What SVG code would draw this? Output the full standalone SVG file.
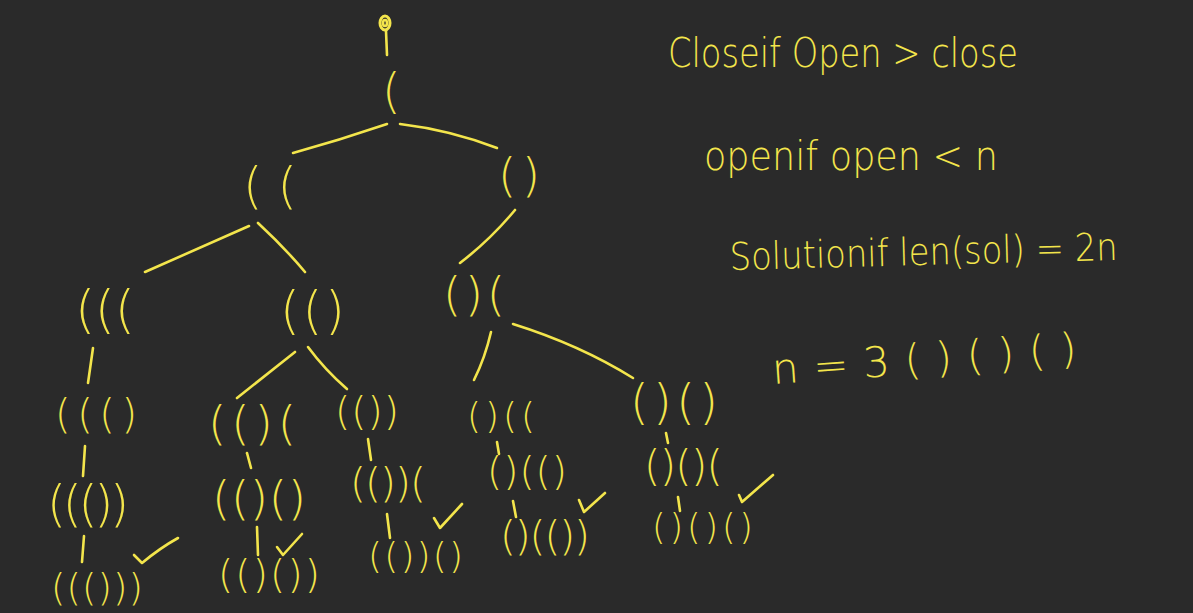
<svg xmlns="http://www.w3.org/2000/svg" width="1193" height="613" viewBox="0 0 1193 613">
<style>
.bg{fill:#2a2a2a}
.t{font-family:"DejaVu Sans ExtraLight","DejaVu Sans","Liberation Sans",sans-serif;font-weight:200;fill:#f3e54c}
.n{font-family:"DejaVu Sans ExtraLight","DejaVu Sans","Liberation Sans",sans-serif;font-weight:200;fill:#f3e54c}
.c{stroke:#f3e54c;stroke-width:2.6;fill:none;stroke-linecap:round;stroke-linejoin:round}
</style>
<rect class="bg" x="0" y="0" width="1193" height="613"/>
<g id="connectors" class="c">
<path d="M386,31 L387,55"/>
<path d="M387,124 Q340,140 293,153"/>
<path d="M400,124 Q450,130 497,148"/>
<path d="M249,226 Q190,252 145,272"/>
<path d="M258,223 Q285,248 305,272"/>
<path d="M515,210 Q490,240 460,263"/>
<path d="M93,348 L88,383"/>
<path d="M295,352 L237,398"/>
<path d="M308,347 Q325,370 347,389"/>
<path d="M491,332 Q485,358 474,380"/>
<path d="M513,324 Q580,345 633,378"/>
<path d="M85,446 L83,476"/>
<path d="M84,536 L82,562"/>
<path d="M247,453 L251,468"/>
<path d="M257,527 L258,555"/>
<path d="M368,439 L371,460"/>
<path d="M387,514 L390,538"/>
<path d="M497,442 L499,454"/>
<path d="M513,501 L516,517"/>
<path d="M666,433 L668,443"/>
<path d="M678,497 L680,511"/>
</g>
<g id="checks" class="c">
<path d="M134,555 L142,563 Q160,548 178,538"/>
<path d="M277,547 L283,555 L302,534"/>
<path d="M434,518 L440,528 L462,504"/>
<path d="M579,500 L584,512 L605,493"/>
<path d="M739,495 L742,502 Q758,488 773,475"/>
</g>
<g id="root" class="c"><ellipse cx="385" cy="23" rx="5" ry="7" stroke-width="3"/><ellipse cx="385" cy="23" rx="2" ry="3"/></g>
<g id="n1"><text class="n" x="382" y="108" font-size="48">(</text></g>
<g id="n2"><text class="n" x="243" y="203" font-size="50" textLength="54" lengthAdjust="spacing">((</text></g>
<g id="n3"><text class="n" x="498" y="191" font-size="47" textLength="42" lengthAdjust="spacing">()</text></g>
<g id="n4"><text class="n" x="75" y="327" font-size="52" textLength="60" lengthAdjust="spacing">(((</text></g>
<g id="n5"><text class="n" x="280" y="328" font-size="51" textLength="65" lengthAdjust="spacing">(()</text></g>
<g id="n6"><text class="n" x="443" y="310" font-size="47" textLength="62" lengthAdjust="spacing">()(</text></g>
<g id="n7"><text class="n" x="55" y="428" font-size="40" textLength="82" lengthAdjust="spacing">((()</text></g>
<g id="n8"><text class="n" x="208" y="439" font-size="47" textLength="88" lengthAdjust="spacing">(()(</text></g>
<g id="n9"><text class="n" x="335" y="425" font-size="39" textLength="64" lengthAdjust="spacing">(())</text></g>
<g id="n10"><text class="n" x="467" y="428" font-size="36" textLength="68" lengthAdjust="spacing">()((</text></g>
<g id="n11"><text class="n" x="630" y="419" font-size="48" textLength="88" lengthAdjust="spacing">()()</text></g>
<g id="n12"><text class="n" x="47" y="521" font-size="49" textLength="82" lengthAdjust="spacing">((())</text></g>
<g id="n13"><text class="n" x="212" y="514" font-size="47" textLength="94" lengthAdjust="spacing">(()()</text></g>
<g id="n14"><text class="n" x="350" y="497" font-size="41" textLength="76" lengthAdjust="spacing">(())(</text></g>
<g id="n15"><text class="n" x="487" y="485" font-size="39" textLength="80" lengthAdjust="spacing">()(()</text></g>
<g id="n16"><text class="n" x="644" y="481" font-size="42" textLength="79" lengthAdjust="spacing">()()(</text></g>
<g id="n17"><text class="n" x="51" y="601" font-size="37" textLength="92" lengthAdjust="spacing">((()))</text></g>
<g id="n18"><text class="n" x="218" y="588" font-size="39" textLength="102" lengthAdjust="spacing">(()())</text></g>
<g id="n19"><text class="n" x="368" y="568" font-size="36" textLength="95" lengthAdjust="spacing">(())()</text></g>
<g id="n20"><text class="n" x="500" y="550" font-size="41" textLength="90" lengthAdjust="spacing">()(())</text></g>
<g id="n21"><text class="n" x="652" y="539" font-size="35" textLength="101" lengthAdjust="spacing">()()()</text></g>
<g id="rules">
<text class="t" x="668" y="67" font-size="40" textLength="350" lengthAdjust="spacingAndGlyphs">Closeif Open &gt; close</text>
<text class="t" x="704" y="170" font-size="40" textLength="294" lengthAdjust="spacingAndGlyphs">openif open &lt; n</text>
<text class="t" x="730" y="270" font-size="38" textLength="388" lengthAdjust="spacingAndGlyphs" transform="rotate(-1.5 730 270)">Solutionif len(sol) = 2n</text>
<text class="t" x="773" y="384" font-size="42" textLength="305" lengthAdjust="spacing" transform="rotate(-4 773 384)">n = 3 ( )  ( )  ( )</text>
</g>
</svg>
